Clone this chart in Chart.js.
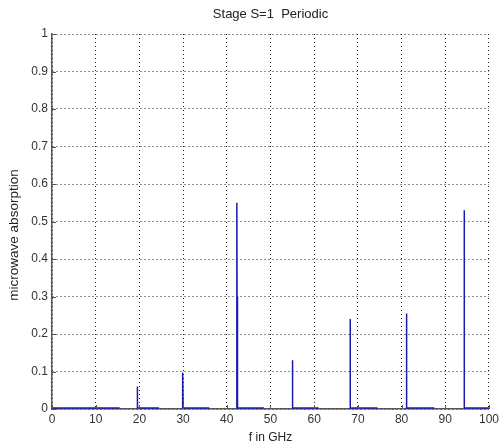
<!DOCTYPE html>
<html>
<head>
<meta charset="utf-8">
<script src="https://cdn.jsdelivr.net/npm/chart.js@4/dist/chart.umd.min.js"></script>
<style>
  html, body { margin: 0; padding: 0; background: #fff; }
  #wrap { width: 502px; height: 445px; }
</style>
</head>
<body>
<div id="wrap"><canvas id="chart" width="502" height="445"></canvas></div>
<script>
// absorption spectrum (null = break in the trace)
const freqGHz = [
  0, 15.5, null,
  19.5, 19.5, 19.6, 24.5, null,
  29.9, 29.9, 30.0, 36.0, null,
  42.3, 42.3, 42.4, 42.4, 42.5, 48.5, null,
  55.0, 55.0, 55.1, 61.0, null,
  68.2, 68.2, 68.3, 74.5, null,
  81.1, 81.1, 81.2, 87.5, null,
  94.3, 94.3, 94.4, 100
];
const absorption = [
  0.003, 0.003, null,
  0.003, 0.06, 0.003, 0.003, null,
  0.003, 0.097, 0.003, 0.003, null,
  0.003, 0.55, 0.003, 0.30, 0.003, 0.003, null,
  0.003, 0.13, 0.003, 0.003, null,
  0.003, 0.24, 0.003, 0.003, null,
  0.003, 0.255, 0.003, 0.003, null,
  0.003, 0.53, 0.003, 0.003
];
const xTicks = [0, 10, 20, 30, 40, 50, 60, 70, 80, 90, 100];
const yTicks = [0, 0.1, 0.2, 0.3, 0.4, 0.5, 0.6, 0.7, 0.8, 0.9, 1];
const chartTitle = 'Stage S=1  Periodic';
const yTitle = 'microwave absorption';

const points = freqGHz.map((f, i) => (f === null ? { x: null, y: null } : { x: f, y: absorption[i] }));

const font = { family: '"Liberation Sans", Arial, sans-serif', size: 12 };

// titles placed like the matlab figure, plus inward ticks
const matlabBits = {
  id: 'matlabBits',
  afterDraw(chart) {
    const { ctx, chartArea: a, scales } = chart;
    ctx.save();
    ctx.fillStyle = '#222';
    ctx.font = '13px "Liberation Sans", Arial, sans-serif';
    ctx.textAlign = 'center';
    ctx.textBaseline = 'middle';
    ctx.fillText(chartTitle, (a.left + a.right) / 2, 14);

    ctx.save();
    ctx.translate(14, 235);
    ctx.rotate(-Math.PI / 2);
    ctx.font = '13.5px "Liberation Sans", Arial, sans-serif';
    ctx.fillText(yTitle, 0, 0);
    ctx.restore();

    ctx.strokeStyle = '#555';
    ctx.lineWidth = 1;
    ctx.beginPath();
    xTicks.forEach(v => {
      const x = Math.round(scales.x.getPixelForValue(v)) + 0.5;
      ctx.moveTo(x, a.bottom);
      ctx.lineTo(x, a.bottom - 4);
    });
    yTicks.forEach(v => {
      const y = Math.round(scales.y.getPixelForValue(v)) + 0.5;
      ctx.moveTo(a.left, y);
      ctx.lineTo(a.left + 4, y);
    });
    ctx.stroke();
    ctx.restore();
  }
};

new Chart(document.getElementById('chart'), {
  type: 'scatter',
  data: {
    datasets: [{
      data: points,
      showLine: true,
      spanGaps: false,
      borderColor: '#1b1bb0',
      borderWidth: 1.5,
      pointRadius: 0,
      tension: 0
    }]
  },
  options: {
    responsive: false,
    animation: false,
    layout: { padding: { right: 12, top: 34 } },
    plugins: {
      legend: { display: false },
      tooltip: { enabled: false },
      title: { display: false }
    },
    scales: {
      x: {
        type: 'linear',
        min: 0,
        max: 100,
        afterBuildTicks: axis => { axis.ticks = xTicks.map(v => ({ value: v })); },
        afterFit: axis => { axis.height = 36; },
        grid: { color: '#222', lineWidth: 1, drawTicks: false },
        border: { display: true, color: '#555', width: 1.5, dash: [1, 3] },
        ticks: { color: '#333', font, padding: 3, maxRotation: 0 },
        title: { display: true, text: 'f in GHz', color: '#222', font, padding: { top: 0, bottom: 0 } }
      },
      y: {
        type: 'linear',
        min: 0,
        max: 1,
        afterBuildTicks: axis => { axis.ticks = yTicks.map(v => ({ value: v })); },
        afterFit: axis => { axis.width = 52; },
        grid: { color: '#222', lineWidth: 1, drawTicks: false },
        border: { display: true, color: '#555', width: 1.5, dash: [1, 3] },
        ticks: { color: '#333', font, padding: 4, callback: v => String(+v.toFixed(1)) },
        title: { display: false }
      }
    }
  },
  plugins: [matlabBits]
});
</script>
</body>
</html>
